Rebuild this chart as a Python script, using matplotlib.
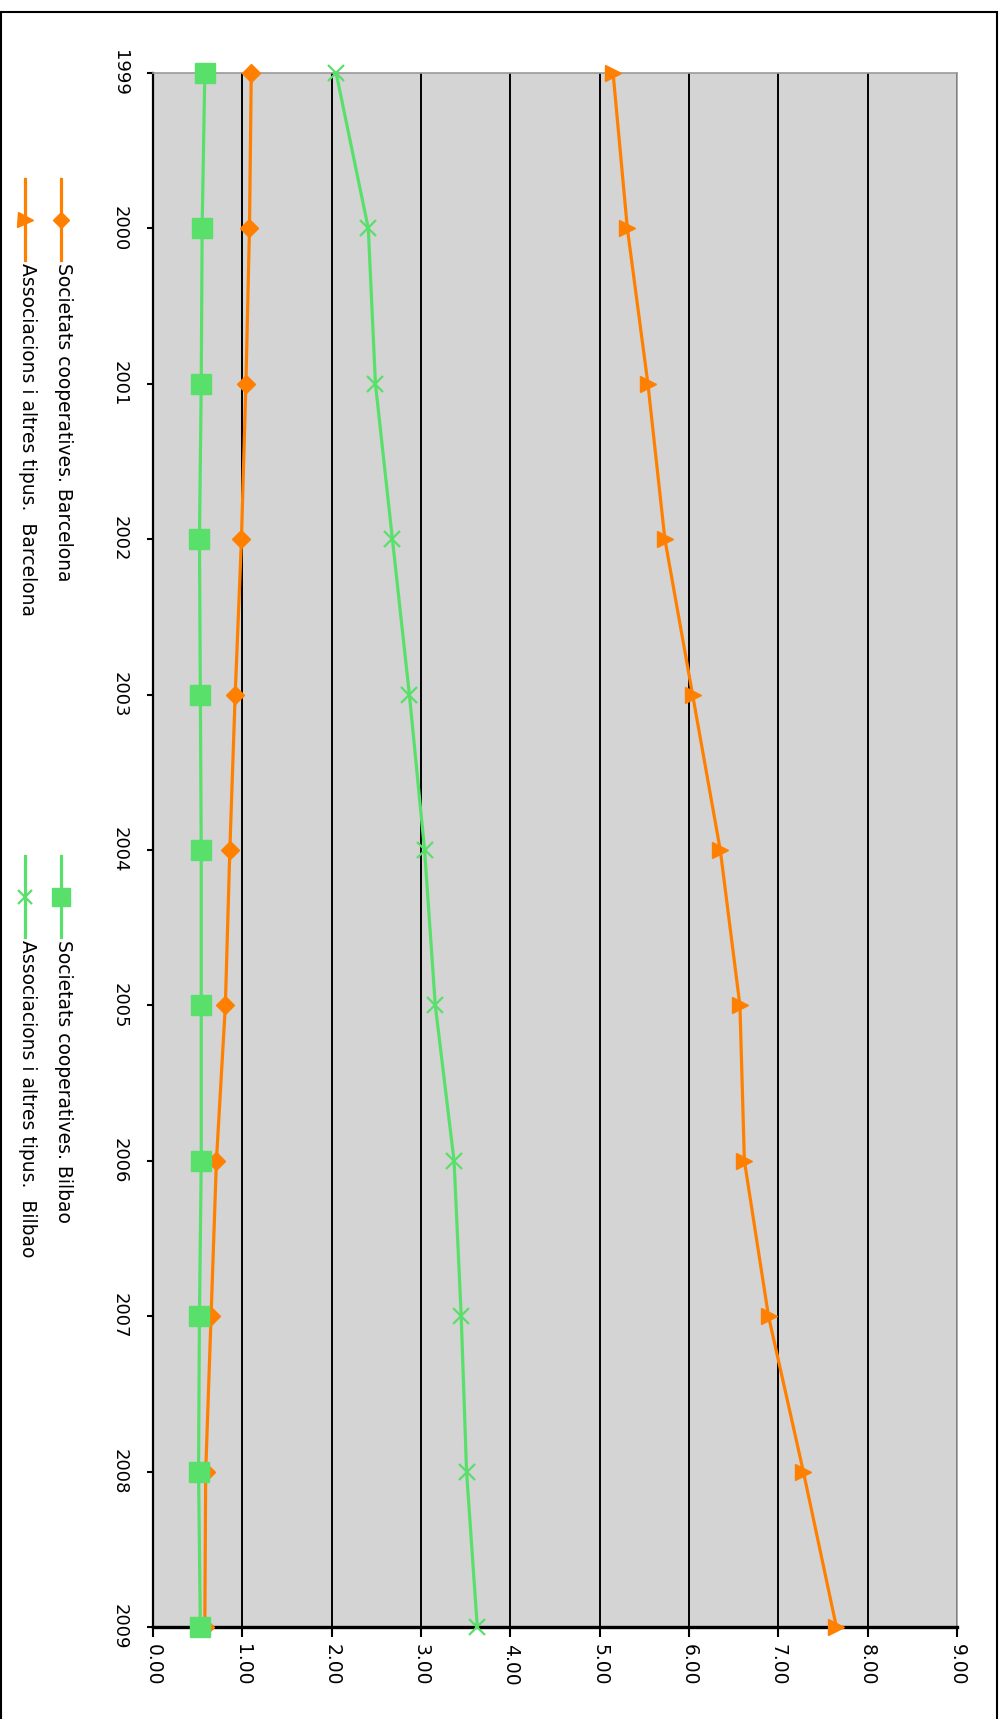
import matplotlib
matplotlib.use("Agg")
import matplotlib.pyplot as plt
from matplotlib.lines import Line2D
from matplotlib.patches import Rectangle

# Yearly series, 1999-2009 (values per 1,000 inhabitants)
years = [1999, 2000, 2001, 2002, 2003, 2004, 2005, 2006, 2007, 2008, 2009]
coop_barcelona = [1.10, 1.08, 1.04, 0.99, 0.92, 0.86, 0.81, 0.71, 0.65, 0.59, 0.58]
assoc_barcelona = [5.15, 5.31, 5.54, 5.73, 6.04, 6.35, 6.57, 6.62, 6.89, 7.28, 7.65]
coop_bilbao = [0.58, 0.55, 0.54, 0.52, 0.53, 0.54, 0.54, 0.54, 0.52, 0.51, 0.53]
assoc_bilbao = [2.05, 2.41, 2.49, 2.68, 2.87, 3.04, 3.16, 3.37, 3.45, 3.51, 3.63]

value_ticks = [0, 1, 2, 3, 4, 5, 6, 7, 8, 9]
value_labels = ["%.2f" % v for v in value_ticks]

labels = [
    "Societats cooperatives. Barcelona",
    "Associacions i altres tipus.  Barcelona",
    "Societats cooperatives. Bilbao",
    "Associacions i altres tipus.  Bilbao",
]

ORANGE = "#ff8000"
GREEN = "#58e06a"
W, H = 1005, 1719

series = [
    (coop_barcelona, ORANGE, "D", 8.7, 1.0),
    (assoc_barcelona, ORANGE, ">", 12, 1.0),
    (coop_bilbao, GREEN, "s", 14.5, 1.0),
    (assoc_bilbao, GREEN, "x", 11, 1.6),
]

fig = plt.figure(figsize=(W / 100, H / 100), dpi=100)
fig.patch.set_facecolor("white")


def fx(x):
    return x / W


def fy(y):
    return 1 - y / H


# chart is drawn turned a quarter turn: years run downwards, values to the right
ax = fig.add_axes([fx(153), fy(1627), fx(957) - fx(153), fy(73) - fy(1627)])
ax.set_facecolor("#d4d4d4")

for vals, col, mk, ms, mew in series:
    ax.plot(vals, years, color=col, lw=2.3, marker=mk, ms=ms, mew=mew,
            mec=col, mfc=col, clip_on=False, zorder=4)

ax.set_xlim(0, 9)
ax.set_ylim(2009, 1999)

ax.set_xticks(value_ticks)
ax.set_xticklabels(value_labels, rotation=-90, ha="center", va="top", fontsize=13.5)
ax.set_yticks(years)
ax.set_yticklabels([str(y) for y in years], rotation=-90, ha="right", va="center",
                   fontsize=13)
ax.tick_params(axis="x", length=7, width=1.5, pad=5, color="black")
ax.tick_params(axis="y", length=4.5, width=1.5, pad=13, color="black")

ax.grid(axis="x", color="black", lw=1.4, zorder=1)
ax.set_axisbelow(True)

ax.spines["left"].set_color("black")
ax.spines["left"].set_linewidth(1.6)
ax.spines["bottom"].set_color("black")
ax.spines["bottom"].set_linewidth(2.4)
for side in ("top", "right"):
    ax.spines[side].set_color("#9a9a9a")
    ax.spines[side].set_linewidth(1.2)

# legend, laid out by hand so the entries read top to bottom
legend_rows = [
    (61, 220, labels[0], series[0]),
    (25, 220, labels[1], series[1]),
    (61, 897, labels[2], series[2]),
    (25, 897, labels[3], series[3]),
]
for x, ym, text, (vals, col, mk, ms, mew) in legend_rows:
    fig.add_artist(Line2D([fx(x), fx(x)], [fy(ym - 41), fy(ym + 40)],
                          color=col, lw=2.3, transform=fig.transFigure))
    fig.add_artist(Line2D([fx(x)], [fy(ym)], color=col, marker=mk, ms=ms * 0.9,
                          mew=mew, mec=col, mfc=col, transform=fig.transFigure))
    fig.text(fx(x + 2), fy(ym + 43), text, rotation=-90, ha="center", va="top",
             fontsize=13.5, color="black")

# outer chart frame
fig.add_artist(Rectangle((fx(0.5), fy(1725)), fx(997) - fx(0.5), fy(12) - fy(1725),
                         transform=fig.transFigure, fill=False,
                         edgecolor="black", lw=1.5))

fig.savefig("out.png", dpi=100)
